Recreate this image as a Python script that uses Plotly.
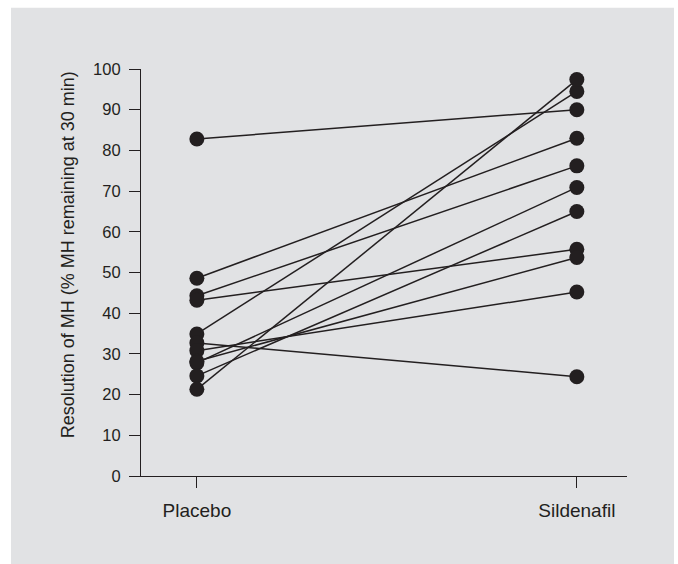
import plotly.graph_objects as go

categories = ["Placebo", "Sildenafil"]
placebo = [82.8, 48.6, 44.3, 43.2, 34.9, 32.7, 30.8, 28.2, 27.8, 24.6, 21.3]
sildenafil = [90.0, 83.0, 76.2, 55.7, 94.5, 24.4, 45.2, 53.7, 70.9, 65.0, 97.4]
y_ticks = list(range(0, 101, 10))
y_title = "Resolution of MH (% MH remaining at 30 min)"

ink = "#231f20"
bg = "#e1e2e4"

fig = go.Figure()
for p, s in zip(placebo, sildenafil):
    fig.add_trace(go.Scatter(
        x=[0, 1], y=[p, s], mode="lines+markers",
        line=dict(color=ink, width=1.5),
        marker=dict(color=ink, size=15),
        cliponaxis=False, showlegend=False, hoverinfo="skip",
    ))

L, R, T, B = 141, 51, 69.3, 88
W, H = 678, 564
pw, ph = W - L - R, H - T - B
fig.add_shape(type="rect", xref="paper", yref="paper",
              x0=(11 - L) / pw, x1=(674 - L) / pw,
              y0=(H - B - 564) / ph, y1=(H - B - 8) / ph,
              fillcolor=bg, line=dict(width=0), layer="below")

fig.add_annotation(text=y_title, textangle=-90, showarrow=False,
                   xref="paper", yref="paper",
                   x=(68 - L) / pw, y=(H - B - 255.5) / ph,
                   xanchor="center", yanchor="middle",
                   font=dict(size=18, color=ink))

fig.update_layout(
    width=W, height=H,
    margin=dict(l=L, r=R, t=T, b=B, pad=0),
    paper_bgcolor="white", plot_bgcolor=bg,
    font=dict(family="Liberation Sans, Arial, sans-serif", size=16, color=ink),
    xaxis=dict(range=[-0.147, 1.132], tickvals=[0, 1], ticktext=categories,
               showline=True, linecolor=ink, linewidth=1.2,
               ticks="outside", ticklen=11, tickcolor=ink, tickwidth=1.2,
               tickfont=dict(size=19), ticklabelstandoff=6,
               showgrid=False, zeroline=False, fixedrange=True),
    yaxis=dict(range=[0, 100], tickvals=y_ticks,
               showline=True, linecolor=ink, linewidth=1.2,
               ticks="outside", ticklen=11, tickcolor=ink, tickwidth=1.2,
               tickfont=dict(size=16.5), ticklabelstandoff=5,
               showgrid=False, zeroline=False),
)

fig.write_html("out.html")
